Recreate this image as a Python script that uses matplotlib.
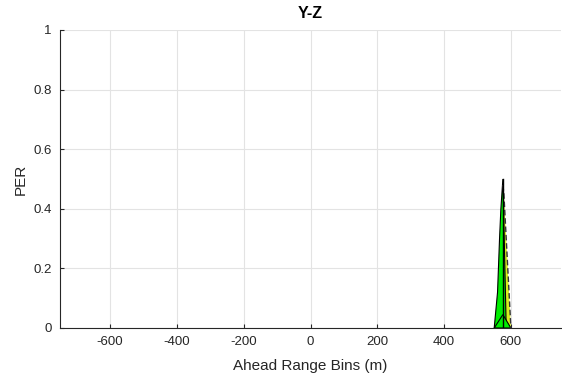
import matplotlib
matplotlib.use("Agg")
import matplotlib.pyplot as plt
from matplotlib.ticker import FuncFormatter

plt.rcParams['font.family'] = ['Liberation Sans', 'DejaVu Sans']
plt.rcParams['axes.unicode_minus'] = False

# Green distribution (solid edge)
green_x = [550, 560, 566, 570, 573, 576, 586]
green_y = [0.0, 0.12, 0.30, 0.40, 0.45, 0.50, 0.0]
# Yellow distribution (dashed edge)
yellow_x = [576, 579, 600]
yellow_y = [0.48, 0.45, 0.0]
# Small baseline triangle
small_x = [550, 576, 600]
small_y = [0.0, 0.045, 0.0]
# Peak marker
peak_x = 576
peak_y = 0.50

xticks = [-600, -400, -200, 0, 200, 400, 600]
yticks = [0, 0.2, 0.4, 0.6, 0.8, 1.0]

fig = plt.figure(figsize=(5.62, 3.81), dpi=100)
ax = fig.add_axes([60/562, 53/381, 501/562, 298/381])

ax.fill(yellow_x + [yellow_x[0]], yellow_y + [0.0], color='#d6ee1e', lw=0)
ax.plot(yellow_x, yellow_y, color='#333333', ls=(0, (4, 2)), lw=1.0)
ax.fill(green_x, green_y, facecolor='#00ee00', edgecolor='black', lw=0.8)
ax.fill(small_x, small_y, facecolor='#00ee00', edgecolor='black', lw=0.8)
ax.plot([peak_x, peak_x], [0, peak_y], color='black', lw=1.0)

ax.set_xlim(-750, 750)
ax.set_ylim(0, 1)
ax.set_xticks(xticks)
ax.set_yticks(yticks)
ax.yaxis.set_major_formatter(FuncFormatter(lambda v, p: '%g' % v))
ax.xaxis.set_major_formatter(FuncFormatter(lambda v, p: '%d' % v))
ax.grid(True, color='#e3e3e3', lw=0.8)
ax.set_axisbelow(True)
for s in ['top', 'right']:
    ax.spines[s].set_visible(False)
for s in ['left', 'bottom']:
    ax.spines[s].set_color('#262626')
    ax.spines[s].set_linewidth(0.8)
ax.tick_params(direction='in', length=3, width=0.8, colors='#262626',
               labelsize=9.5, labelcolor='#262626', pad=6)
ax.set_title('Y-Z', fontsize=11.5, fontweight='bold', color='black', pad=9)
ax.set_xlabel('Ahead Range Bins (m)', fontsize=11, color='#262626', labelpad=8)
ax.set_ylabel('PER', fontsize=11, color='#262626', labelpad=4)

fig.savefig('out.png', dpi=100)
